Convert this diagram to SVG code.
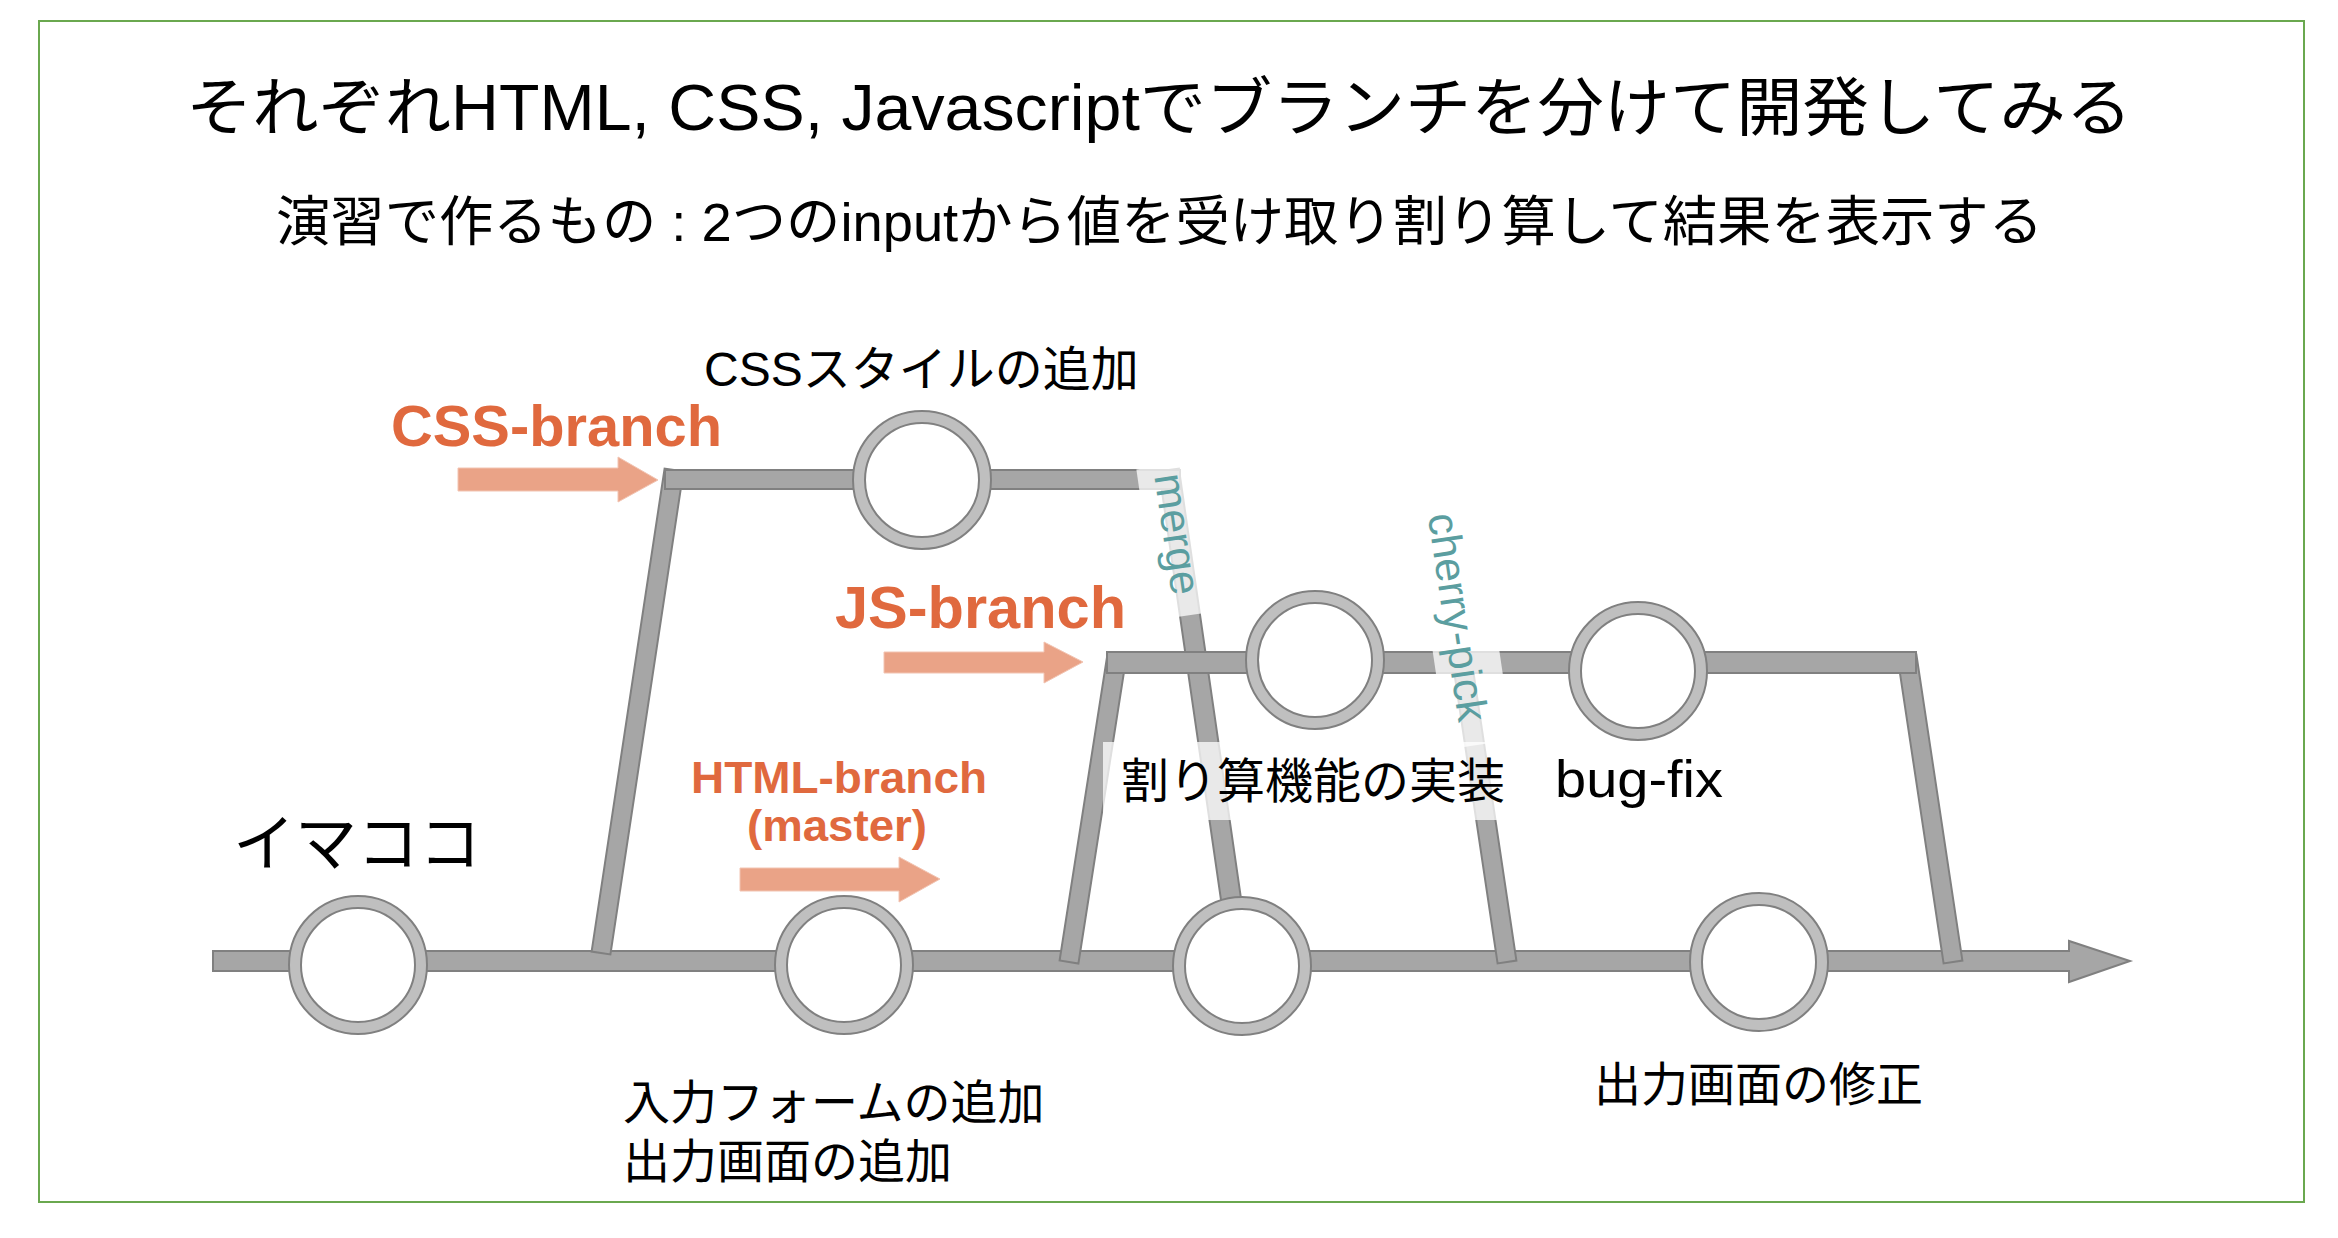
<svg xmlns="http://www.w3.org/2000/svg" width="2338" height="1238" viewBox="0 0 2338 1238">
<style>
.bar{fill:#a6a6a6;stroke:#808080;stroke-width:2;stroke-linejoin:miter}
.ring{fill:#bfbfbf;stroke:#808080;stroke-width:2}
.hole{fill:#ffffff;stroke:#808080;stroke-width:2}
.arr{fill:#eaa387;stroke:#f2c4b2;stroke-width:1}
.lbox{fill:#ffffff;fill-opacity:0.75}
.t{font-family:"Liberation Sans","Noto Sans CJK JP",sans-serif;fill:#000000}
.br{font-family:"Liberation Sans","Noto Sans CJK JP",sans-serif;font-weight:bold;fill:#e0693e}
.op{font-family:"Liberation Sans","Noto Sans CJK JP",sans-serif;fill:#5b9ea0;font-size:43px}
</style>
<rect x="0" y="0" width="2338" height="1238" fill="#ffffff"/>
<rect x="39" y="21" width="2265" height="1181" fill="none" stroke="#6aa84f" stroke-width="2"/>

<g id="titles">
<text class="t" x="186" y="130" font-size="64" textLength="1946" lengthAdjust="spacingAndGlyphs">それぞれHTML, CSS, Javascriptでブランチを分けて開発してみる</text>
<text class="t" x="276" y="241" font-size="54" textLength="1767" lengthAdjust="spacingAndGlyphs">演習で作るもの : 2つのinputから値を受け取り割り算して結果を表示する</text>
</g>

<g id="connectors">
<polygon class="bar" points="213,951 2069,951 2069,941 2130,961 2069,982 2069,971 213,971"/>
<polygon class="bar" points="683.4,471.4 610.4,954.4 591.6,951.6 664.6,468.6"/>
<polygon class="bar" points="1126.4,656.5 1078.4,963.5 1059.6,960.5 1107.6,653.5"/>
<polygon class="bar" points="1471.4,658.6 1516.4,960.6 1497.6,963.4 1452.6,661.4"/>
<polygon class="bar" points="1916.4,654.6 1962.4,960.6 1943.6,963.4 1897.6,657.4"/>
<polygon class="bar" points="1178.9,468.6 1243.9,918.6 1224.1,921.4 1159.1,471.4"/>
<rect class="bar" x="665" y="470" width="515" height="19"/>
<rect class="bar" x="1107" y="652" width="809" height="21"/>
</g>

<g id="label-boxes">
<rect class="lbox" x="-76" y="-32" width="152" height="64" transform="translate(1179,540) rotate(81.7)"/>
<rect class="lbox" x="-129" y="-33" width="258" height="66" transform="translate(1461,617) rotate(81.6)"/>
<rect class="lbox" x="1103" y="742" width="409" height="78"/>
</g>

<g id="arrows">
<polygon class="arr" points="458,468 618,468 618,457 658,480 618,502 618,491 458,491"/>
<polygon class="arr" points="884,652 1044,652 1044,642 1083,662 1044,683 1044,673 884,673"/>
<polygon class="arr" points="740,868 899,868 899,857 940,879 899,902 899,891 740,891"/>
</g>

<g id="node-m1"><circle class="ring" cx="358" cy="965" r="69"/><circle class="hole" cx="358" cy="965" r="57"/></g>
<g id="node-m2"><circle class="ring" cx="844" cy="965" r="69"/><circle class="hole" cx="844" cy="965" r="57"/></g>
<g id="node-m3"><circle class="ring" cx="1242" cy="966" r="69"/><circle class="hole" cx="1242" cy="966" r="57"/></g>
<g id="node-m4"><circle class="ring" cx="1759" cy="962" r="69"/><circle class="hole" cx="1759" cy="962" r="57"/></g>
<g id="node-css"><circle class="ring" cx="922" cy="480" r="69"/><circle class="hole" cx="922" cy="480" r="57"/></g>
<g id="node-js1"><circle class="ring" cx="1315" cy="660" r="69"/><circle class="hole" cx="1315" cy="660" r="57"/></g>
<g id="node-js2"><circle class="ring" cx="1638" cy="671" r="69"/><circle class="hole" cx="1638" cy="671" r="57"/></g>

<g id="labels">
<text class="t" x="704" y="386" font-size="48">CSSスタイルの追加</text>
<text class="t" x="233" y="866" font-size="62">イマココ</text>
<text class="br" x="391" y="446" font-size="58" textLength="331" lengthAdjust="spacingAndGlyphs">CSS-branch</text>
<text class="br" x="835" y="628" font-size="59" textLength="291" lengthAdjust="spacingAndGlyphs">JS-branch</text>
<text class="br" x="839" y="793" font-size="45" text-anchor="middle" textLength="296" lengthAdjust="spacingAndGlyphs">HTML-branch</text>
<text class="br" x="837" y="841" font-size="45" text-anchor="middle" textLength="180" lengthAdjust="spacingAndGlyphs">(master)</text>
<text class="t" x="1121" y="798" font-size="48">割り算機能の実装</text>
<text class="t" x="1555" y="797" font-size="52" textLength="168" lengthAdjust="spacingAndGlyphs">bug-fix</text>
<text class="t" x="623" y="1119" font-size="47">入力フォームの追加</text>
<text class="t" x="623" y="1178" font-size="47">出力画面の追加</text>
<text class="t" x="1594" y="1101" font-size="47">出力画面の修正</text>
<text class="op" transform="translate(1178,534) rotate(81.7)" text-anchor="middle" dominant-baseline="central">merge</text>
<text class="op" transform="translate(1458,617) rotate(81.6)" text-anchor="middle" dominant-baseline="central">cherry-pick</text>
</g>
</svg>
